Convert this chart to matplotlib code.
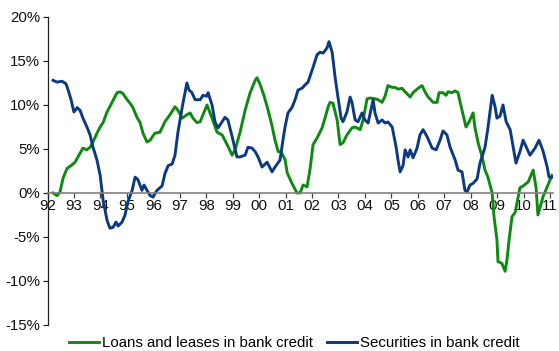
import numpy as np
from matplotlib import pyplot as plt

# Годовой прирост, % (по горизонтали - годы в дробном виде)
loans_years = [
    1992.21, 1992.36, 1992.47, 1992.59, 1992.74, 1992.93, 1993.04, 1993.15, 1993.34, 1993.49,
    1993.61, 1993.72, 1993.87, 1993.99, 1994.10, 1994.25, 1994.44, 1994.63, 1994.74, 1994.85,
    1995.01, 1995.12, 1995.23, 1995.38, 1995.50, 1995.61, 1995.76, 1995.88, 1996.06, 1996.25,
    1996.44, 1996.63, 1996.82, 1996.93, 1997.09, 1997.27, 1997.39, 1997.50, 1997.65, 1997.77,
    1997.88, 1998.03, 1998.22, 1998.41, 1998.60, 1998.79, 1998.98, 1999.09, 1999.28, 1999.47,
    1999.66, 1999.85, 1999.92, 2000.03, 2000.19, 2000.34, 2000.49, 2000.60, 2000.72, 2000.83,
    2000.98, 2001.06, 2001.24, 2001.43, 2001.55, 2001.66, 2001.81, 2001.92, 2002.04, 2002.19,
    2002.38, 2002.49, 2002.61, 2002.68, 2002.79, 2002.95, 2003.06, 2003.17, 2003.32, 2003.51,
    2003.63, 2003.82, 2003.93, 2004.08, 2004.19, 2004.38, 2004.50, 2004.65, 2004.76, 2004.87,
    2005.03, 2005.14, 2005.25, 2005.40, 2005.52, 2005.71, 2005.82, 2006.01, 2006.16, 2006.27,
    2006.39, 2006.58, 2006.73, 2006.80, 2006.95, 2007.07, 2007.14, 2007.29, 2007.41, 2007.52,
    2007.60, 2007.71, 2007.82, 2007.94, 2008.09, 2008.16, 2008.28, 2008.43, 2008.54, 2008.65,
    2008.81, 2008.88, 2008.99, 2009.03, 2009.18, 2009.30, 2009.37, 2009.45, 2009.56, 2009.68,
    2009.79, 2009.86, 2009.98, 2010.17, 2010.36, 2010.47, 2010.54, 2010.73, 2010.89, 2011.07,
]
loans = [
    0.0, -0.3, 0.1, 1.7, 2.8, 3.2, 3.5, 4.1, 5.1, 4.9,
    5.2, 5.8, 6.8, 7.5, 8.0, 9.2, 10.3, 11.4, 11.5, 11.3,
    10.6, 10.2, 9.7, 8.6, 8.0, 6.8, 5.8, 6.0, 6.8, 6.9,
    8.1, 8.9, 9.8, 9.4, 8.5, 8.9, 9.1, 8.5, 8.0, 8.1,
    8.9, 10.0, 8.5, 6.9, 6.6, 5.5, 4.3, 4.9, 6.9, 9.4,
    11.4, 12.8, 13.1, 12.4, 11.0, 9.4, 7.6, 6.0, 4.7, 4.7,
    3.8, 2.3, 1.1, 0.0, 0.0, 0.9, 0.7, 2.6, 5.5, 6.25,
    7.4, 8.5, 9.8, 10.3, 10.2, 8.3, 5.5, 5.7, 6.6, 7.4,
    7.5, 7.2, 8.3, 10.7, 10.8, 10.7, 10.6, 10.3, 11.0, 12.2,
    12.0, 12.0, 11.8, 11.9, 11.5, 10.9, 11.4, 11.9, 12.2, 11.5,
    10.9, 10.3, 10.3, 11.4, 11.4, 11.1, 11.5, 11.4, 11.6, 11.4,
    10.3, 8.9, 7.5, 8.1, 9.1, 7.4, 5.7, 4.1, 2.6, 1.8,
    0.0, -2.7, -5.3, -7.8, -8.0, -8.9, -7.6, -5.3, -2.7, -2.2,
    -0.45, 0.6, 0.8, 1.25, 2.6, 0.6, -2.5, -0.45, 0.7, 2.0,
]

securities_years = [
    1992.21, 1992.36, 1992.55, 1992.70, 1992.78, 1992.89, 1993.00, 1993.12, 1993.23, 1993.34,
    1993.49, 1993.61, 1993.72, 1993.87, 1993.99, 1994.10, 1994.25, 1994.36, 1994.48, 1994.59,
    1994.67, 1994.82, 1994.93, 1995.04, 1995.20, 1995.31, 1995.42, 1995.57, 1995.65, 1995.76,
    1995.88, 1995.99, 1996.14, 1996.33, 1996.44, 1996.56, 1996.71, 1996.82, 1996.93, 1997.12,
    1997.27, 1997.35, 1997.46, 1997.58, 1997.77, 1997.88, 1998.03, 1998.07, 1998.22, 1998.33,
    1998.45, 1998.60, 1998.71, 1998.82, 1998.98, 1999.16, 1999.28, 1999.47, 1999.58, 1999.73,
    1999.85, 1999.96, 2000.11, 2000.30, 2000.49, 2000.60, 2000.79, 2000.90, 2000.98, 2001.09,
    2001.24, 2001.36, 2001.47, 2001.62, 2001.74, 2001.85, 2002.04, 2002.19, 2002.30, 2002.42,
    2002.57, 2002.64, 2002.76, 2002.87, 2002.98, 2003.10, 2003.17, 2003.32, 2003.44, 2003.51,
    2003.63, 2003.74, 2003.89, 2004.00, 2004.12, 2004.31, 2004.38, 2004.50, 2004.65, 2004.76,
    2004.87, 2005.03, 2005.18, 2005.25, 2005.33, 2005.44, 2005.52, 2005.63, 2005.71, 2005.82,
    2005.97, 2006.08, 2006.20, 2006.35, 2006.54, 2006.69, 2006.84, 2006.95, 2007.10, 2007.22,
    2007.41, 2007.52, 2007.67, 2007.78, 2007.86, 2007.97, 2008.09, 2008.24, 2008.35, 2008.54,
    2008.65, 2008.81, 2008.92, 2008.99, 2009.11, 2009.22, 2009.34, 2009.49, 2009.71, 2009.86,
    2009.98, 2010.24, 2010.43, 2010.58, 2010.73, 2010.89, 2010.96, 2011.07,
]
securities = [
    12.8, 12.6, 12.7, 12.4, 11.7, 10.6, 9.2, 9.7, 9.4, 8.5,
    7.5, 6.6, 5.2, 3.75, 2.0, -0.8, -3.1, -4.0, -3.9, -3.3,
    -3.75, -3.3, -2.5, -1.0, 0.3, 1.8, 1.5, 0.3, 0.9, 0.3,
    -0.3, -0.45, 0.3, 0.8, 2.2, 3.1, 3.3, 4.3, 6.9, 10.2,
    12.5, 11.7, 11.4, 10.6, 10.6, 11.1, 11.0, 11.4, 10.0, 8.1,
    7.4, 8.1, 8.6, 8.3, 6.4, 4.1, 4.1, 4.3, 5.2, 5.1,
    4.7, 4.1, 2.95, 3.5, 2.4, 2.95, 3.75, 6.0, 7.5, 9.1,
    9.7, 10.6, 11.7, 11.9, 12.3, 12.6, 14.3, 15.7, 16.0, 15.9,
    16.5, 17.2, 16.0, 13.2, 10.9, 8.5, 8.1, 9.2, 10.9, 10.3,
    8.3, 8.1, 9.1, 8.3, 7.95, 10.6, 9.1, 7.95, 8.3, 7.95,
    8.07, 7.5, 5.2, 3.75, 2.4, 3.1, 4.9, 4.1, 4.9, 4.0,
    5.1, 6.6, 7.2, 6.4, 5.1, 4.9, 6.0, 7.05, 6.6, 5.2,
    3.75, 2.6, 2.4, 0.3, 0.1, 0.9, 1.1, 1.6, 3.4, 5.2,
    7.4, 11.1, 9.8, 8.5, 8.75, 10.0, 8.1, 7.2, 3.4, 4.7,
    6.0, 4.3, 5.1, 6.0, 4.8, 2.95, 1.8, 1.8,
]

year_ticks = list(range(1992, 2012))
year_labels = [f'{y % 100:02d}' for y in year_ticks]
pct_ticks = [-15, -10, -5, 0, 5, 10, 15, 20]

plt.rcParams['font.family'] = ['Liberation Sans', 'DejaVu Sans']
plt.rcParams['font.size'] = 10.8

fig = plt.figure(figsize=(5.59, 3.51), dpi=100)
ax = fig.add_axes([0.085, 0.0741, 0.9038, 0.8775])

green = '#0E8A12'
blue = '#0C3A80'
ax.plot(loans_years, loans, color=green, lw=2.1, solid_joinstyle='round',
        label='Loans and leases in bank credit')
ax.plot(securities_years, securities, color=blue, lw=2.1, solid_joinstyle='round',
        label='Securities in bank credit')

ax.set_xlim(1992, 2011.1)
ax.set_ylim(-15, 20)

# ось X проходит по нулю
ax.spines['top'].set_visible(False)
ax.spines['right'].set_visible(False)
ax.spines['bottom'].set_position(('data', 0))
ax.spines['bottom'].set_color('#808080')
ax.spines['bottom'].set_linewidth(1.2)
ax.spines['left'].set_color('#222222')
ax.spines['left'].set_linewidth(0.9)

ax.set_xticks(year_ticks)
ax.set_xticklabels(year_labels)
ax.tick_params(axis='x', direction='out', length=3.5, width=0.9, color='#444444', pad=1.0,
               labelsize=10.8, labelcolor='#111111')
ax.set_yticks(pct_ticks)
ax.set_yticklabels([f'{v}%' for v in pct_ticks])
ax.tick_params(axis='y', direction='out', length=3.5, width=0.9, color='#222222', pad=2,
               labelsize=10.8, labelcolor='#111111')

fig.legend(loc='center', bbox_to_anchor=(294 / 559, 0.023), ncol=2, frameon=False,
           handlelength=2.0, handletextpad=0.2, columnspacing=0.95, fontsize=10.8)

fig.savefig('out.png', dpi=100)
